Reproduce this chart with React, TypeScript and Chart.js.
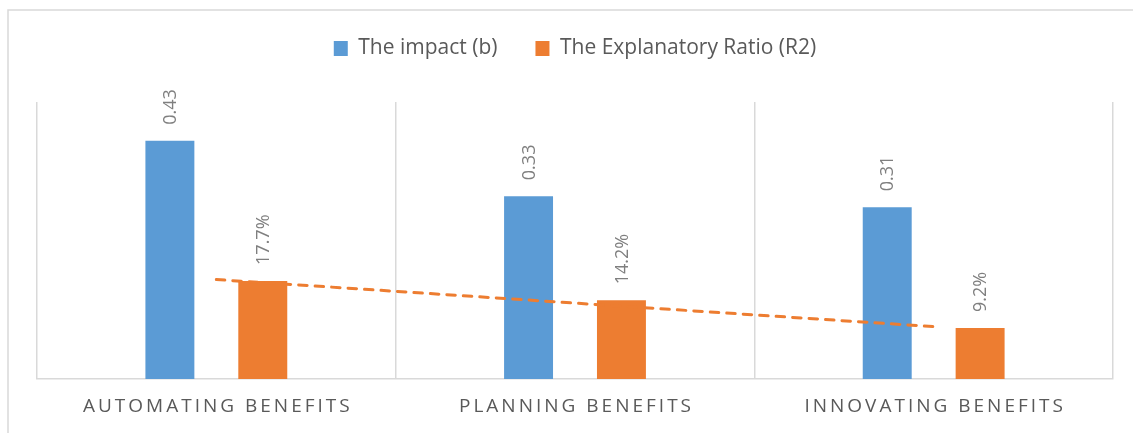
import React, { useEffect, useRef } from 'react';
import { Chart, registerables } from 'chart.js';

Chart.register(...registerables);

// ---- Data ----
const categories = ['AUTOMATING BENEFITS', 'PLANNING BENEFITS', 'INNOVATING BENEFITS'];
const impactValues = [0.43, 0.33, 0.31];
const ratioValues = [0.177, 0.142, 0.092];
const seriesNames = ['The impact (b)', 'The Explanatory Ratio (R2)'];
const yMin = 0;
const yMax = 0.5;

// ---- Styles ----
const FONT = "'Open Sans', sans-serif";
const BLUE = '#5B9BD5';
const ORANGE = '#ED7D31';
const GRID = '#d9d9d9';
const TEXT = '#595959';
const LABEL = '#7f7f7f';

// Excel-style linear trendline of the R2 series
function linearTrend(vals: number[]): number[] {
  const n = vals.length;
  const xs = vals.map((_, i) => i + 1);
  const mx = xs.reduce((a, b) => a + b, 0) / n;
  const my = vals.reduce((a, b) => a + b, 0) / n;
  let num = 0;
  let den = 0;
  for (let i = 0; i < n; i++) {
    num += (xs[i] - mx) * (vals[i] - my);
    den += (xs[i] - mx) * (xs[i] - mx);
  }
  const slope = num / den;
  const intercept = my - slope * mx;
  return xs.map((x) => intercept + slope * x);
}

const framePlugin = {
  id: 'frame',
  beforeDraw(chart: any) {
    const { ctx, width, height } = chart;
    ctx.save();
    ctx.strokeStyle = GRID;
    ctx.lineWidth = 1.5;
    ctx.beginPath();
    ctx.moveTo(8, height);
    ctx.lineTo(8, 10);
    ctx.lineTo(width, 10);
    ctx.stroke();
    ctx.restore();
  },
};

const dataLabelPlugin = {
  id: 'dataLabels',
  afterDatasetsDraw(chart: any) {
    const { ctx } = chart;
    ctx.save();
    ctx.font = `18px ${FONT}`;
    ctx.fillStyle = LABEL;
    ctx.textAlign = 'left';
    ctx.textBaseline = 'middle';
    [0, 1].forEach((di) => {
      const meta = chart.getDatasetMeta(di);
      const vals = chart.data.datasets[di].data as number[];
      meta.data.forEach((el: any, i: number) => {
        const v = vals[i];
        const text = di === 0 ? v.toFixed(2) : (v * 100).toFixed(1) + '%';
        ctx.save();
        ctx.translate(el.x + 1, el.y - 16);
        ctx.rotate(-Math.PI / 2);
        ctx.fillText(text, 0, 0);
        ctx.restore();
      });
    });
    ctx.restore();
  },
};

const categoryLabelPlugin = {
  id: 'categoryLabels',
  afterDraw(chart: any) {
    const { ctx, chartArea } = chart;
    const xScale = chart.scales.x;
    const spacing = 3;
    ctx.save();
    ctx.font = `19px ${FONT}`;
    ctx.fillStyle = TEXT;
    ctx.textAlign = 'left';
    ctx.textBaseline = 'middle';
    (ctx as any).letterSpacing = `${spacing}px`;
    categories.forEach((label, i) => {
      const cx = xScale.getPixelForValue(i);
      const w = ctx.measureText(label).width - spacing;
      ctx.fillText(label, cx - w / 2, chartArea.bottom + 28);
    });
    ctx.restore();
  },
};

export default function App() {
  const canvasRef = useRef<HTMLCanvasElement | null>(null);

  useEffect(() => {
    if (!canvasRef.current) return;
    const trend = linearTrend(ratioValues);
    const chart = new Chart(canvasRef.current, {
      type: 'bar',
      data: {
        labels: categories,
        datasets: [
          {
            label: seriesNames[0],
            data: impactValues,
            backgroundColor: BLUE,
            categoryPercentage: 0.518,
            barPercentage: 0.527,
            order: 1,
          } as any,
          {
            label: seriesNames[1],
            data: ratioValues,
            backgroundColor: ORANGE,
            categoryPercentage: 0.518,
            barPercentage: 0.527,
            order: 1,
          } as any,
          {
            type: 'line',
            label: 'Linear (The Explanatory Ratio (R2))',
            data: trend,
            borderColor: ORANGE,
            borderWidth: 3,
            borderDash: [8.5, 8],
            borderCapStyle: 'round',
            pointRadius: 0,
            fill: false,
            tension: 0,
            order: 0,
          } as any,
        ],
      },
      options: {
        animation: false,
        responsive: true,
        maintainAspectRatio: false,
        layout: { padding: { left: 37, right: 20, top: 0, bottom: 0 } },
        plugins: {
          legend: {
            display: true,
            position: 'top',
            labels: {
              font: { family: FONT, size: 21 },
              color: TEXT,
              boxWidth: 14,
              boxHeight: 15,
              padding: 38,
              filter: (item: any) => item.datasetIndex < 2,
            },
          },
          tooltip: { enabled: false },
        },
        scales: {
          x: {
            type: 'category',
            offset: true,
            grid: { display: true, color: GRID, lineWidth: 1.5, offset: true, drawTicks: false },
            border: { display: true, color: GRID, width: 1.5 },
            ticks: { display: false },
            afterFit: (s: any) => {
              s.height = 54;
            },
          },
          xTop: {
            axis: 'x',
            type: 'category',
            position: 'top',
            display: true,
            grid: { display: false, drawTicks: false },
            border: { display: false },
            ticks: { display: false },
            afterFit: (s: any) => {
              s.height = 33;
            },
          },
          y: {
            display: false,
            min: yMin,
            max: yMax,
          },
        },
      },
      plugins: [framePlugin, dataLabelPlugin, categoryLabelPlugin],
    });
    return () => chart.destroy();
  }, []);

  return (
    <div style={{ position: 'absolute', left: 0, top: 0, width: 1133, height: 433, background: '#fff' }}>
      <canvas ref={canvasRef} />
    </div>
  );
}
